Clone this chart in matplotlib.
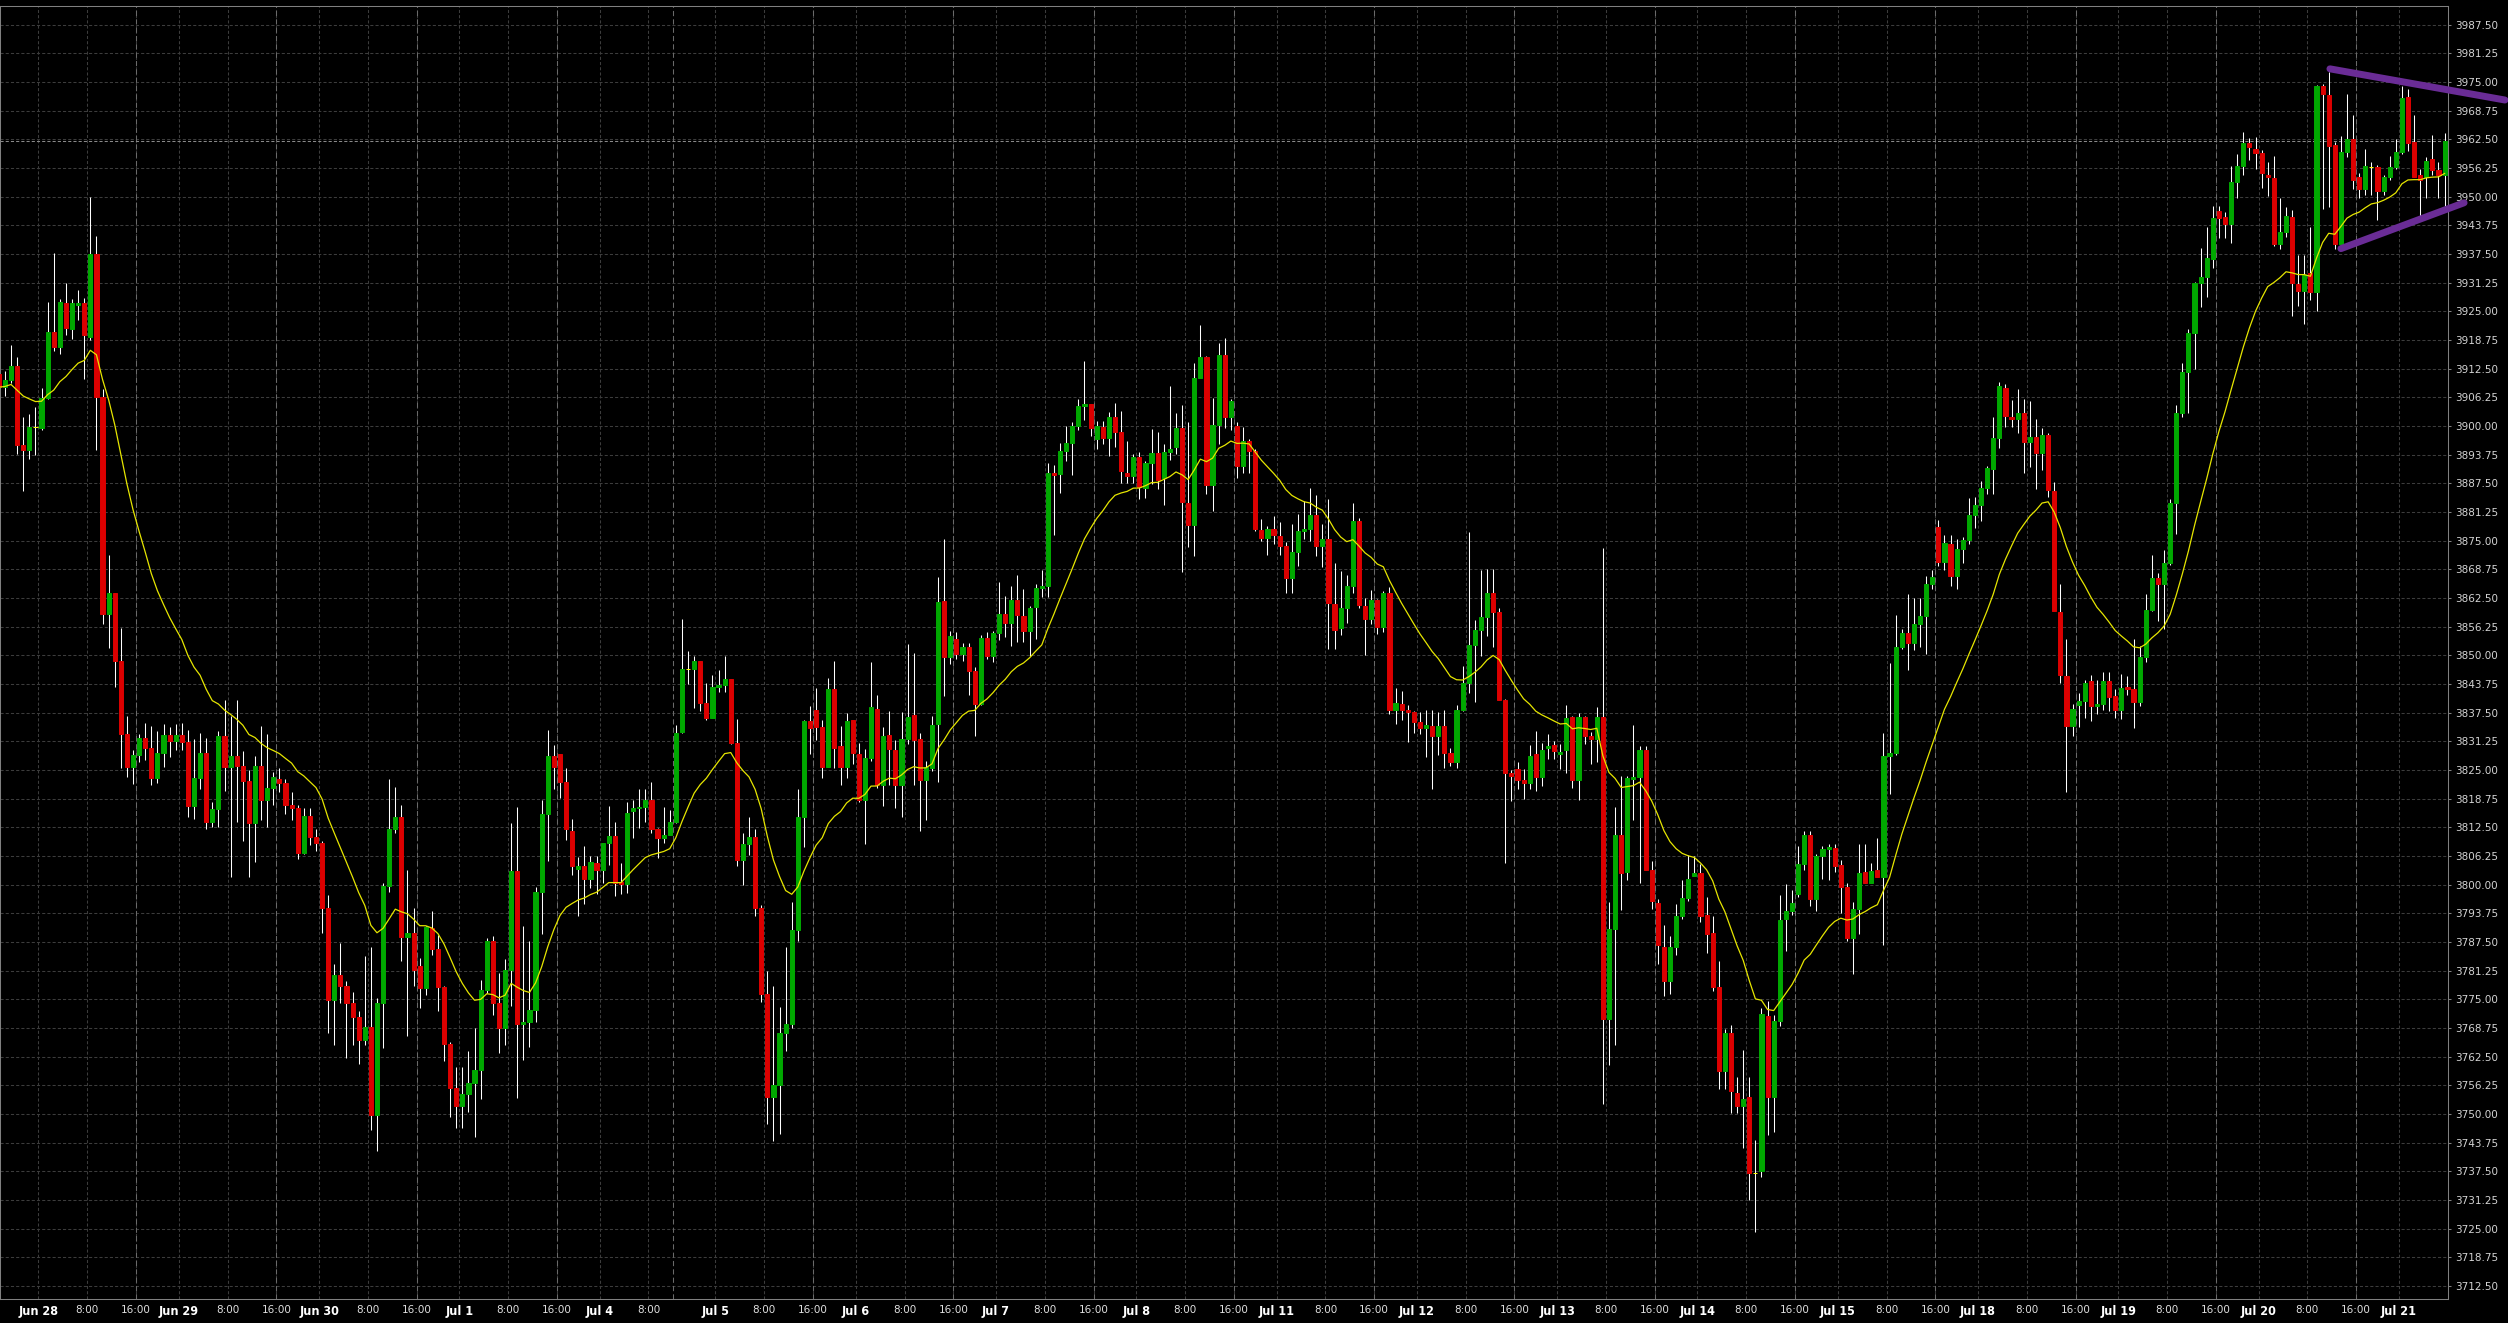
import matplotlib
matplotlib.use('Agg')
import matplotlib.pyplot as plt
import numpy as np
import pandas as pd

# hourly bars (CT), Jun 27 evening session .. Jul 21 morning
opens = [3911.4, 3908.6, 3910.1, 3913.2, 3895.8, 3894.7, 3899.9, 3899.6, 3906.1, 3920.6,
         3917.2, 3926.9, 3921.1, 3926.5, 3926.9, 3919.5, 3937.6, 3906.3, 3859.1, 3863.6,
         3848.9, 3832.9, 3825.6, 3828.4, 3832.0, 3829.8, 3823.2, 3828.7, 3832.6, 3831.3,
         3832.6, 3831.1, 3817.1, 3823.2, 3828.8, 3813.7, 3816.6, 3832.4, 3825.6, 3828.1,
         3826.0, 3822.7, 3813.4, 3825.8, 3818.5, 3821.2, 3823.0, 3822.3, 3817.5, 3816.8,
         3807.0, 3814.9, 3810.4, 3809.1, 3795.0, 3774.9, 3780.4, 3778.0, 3774.3, 3771.2,
         3766.1, 3769.1, 3749.8, 3774.2, 3799.8, 3812.1, 3814.8, 3788.6, 3789.6, 3782.4,
         3777.6, 3790.5, 3785.9, 3777.7, 3765.3, 3755.8, 3751.8, 3754.5, 3756.9, 3759.6,
         3777.0, 3787.8, 3774.3, 3768.7, 3781.4, 3803.0, 3769.6, 3770.0, 3772.7, 3798.5,
         3815.4, 3828.1, 3828.6, 3822.4, 3811.8, 3803.5, 3804.0, 3801.2, 3804.7, 3803.2,
         3809.2, 3810.7, 3800.6, 3800.2, 3816.2, 3816.7, 3817.0, 3818.6, 3812.1, 3810.3,
         3810.9, 3813.7, 3833.3, 3847.0, 3847.0, 3848.8, 3839.7, 3836.4, 3843.2, 3843.6,
         3844.8, 3831.0, 3805.4, 3808.8, 3810.4, 3795.0, 3776.3, 3753.7, 3756.4, 3767.6,
         3769.6, 3790.2, 3814.7, 3835.7, 3838.1, 3834.3, 3825.7, 3842.8, 3830.2, 3825.7,
         3835.9, 3828.6, 3818.6, 3827.7, 3838.4, 3821.8, 3832.6, 3829.4, 3821.8, 3831.9,
         3837.1, 3831.9, 3822.8, 3825.5, 3835.0, 3861.9, 3849.7, 3853.6, 3850.4, 3851.9,
         3846.6, 3839.5, 3853.9, 3849.8, 3854.9, 3859.0, 3857.0, 3862.2, 3858.6, 3855.3,
         3860.5, 3864.7, 3865.2, 3889.8, 3889.6, 3894.6, 3896.4, 3900.1, 3904.4, 3904.9,
         3897.2, 3899.8, 3897.4, 3901.9, 3898.7, 3889.7, 3889.1, 3893.2, 3886.5, 3891.9,
         3894.1, 3888.8, 3894.3, 3895.4, 3899.6, 3883.2, 3878.5, 3910.5, 3915.1, 3887.1,
         3900.2, 3915.6, 3902.1, 3900.0, 3891.4, 3896.8, 3894.5, 3877.3, 3875.7, 3877.5,
         3876.0, 3873.8, 3867.0, 3872.6, 3877.1, 3877.5, 3880.6, 3873.8, 3875.4, 3861.3,
         3856.0, 3860.4, 3865.2, 3879.3, 3860.7, 3858.0, 3862.1, 3856.2, 3863.6, 3838.1,
         3839.4, 3838.1, 3837.7, 3835.6, 3834.2, 3834.6, 3832.4, 3834.7, 3828.7, 3826.8,
         3838.1, 3844.0, 3852.3, 3855.5, 3858.3, 3863.6, 3859.5, 3840.3, 3824.3, 3825.3,
         3822.8, 3822.3, 3828.5, 3823.5, 3829.8, 3830.5, 3828.5, 3829.3, 3836.6, 3822.8,
         3836.6, 3832.5, 3831.8, 3836.6, 3770.7, 3790.4, 3810.8, 3802.8, 3823.1, 3823.6,
         3829.5, 3803.3, 3796.1, 3786.5, 3779.1, 3786.5, 3793.3, 3797.1, 3802.0, 3802.5,
         3793.5, 3789.5, 3777.8, 3759.3, 3767.8, 3754.7, 3751.7, 3753.7, 3737.2, 3737.7,
         3771.4, 3753.7, 3770.4, 3792.5, 3794.3, 3798.1, 3804.5, 3810.8, 3796.8, 3806.3,
         3807.8, 3808.1, 3804.3, 3799.5, 3788.5, 3794.8, 3802.8, 3800.5, 3803.3, 3801.8,
         3828.1, 3828.8, 3851.8, 3854.8, 3852.8, 3856.8, 3858.5, 3865.5, 3878.0, 3870.4,
         3874.4, 3867.3, 3873.2, 3875.1, 3880.6, 3882.7, 3886.6, 3890.6, 3897.5, 3908.3,
         3901.9, 3901.5, 3902.9, 3896.6, 3897.7, 3894.1, 3898.0, 3885.9, 3859.4, 3845.5,
         3834.6, 3839.3, 3840.0, 3844.4, 3838.9, 3839.4, 3844.4, 3841.2, 3838.1, 3843.2,
         3842.7, 3839.9, 3849.7, 3860.0, 3866.8, 3865.6, 3870.2, 3883.2, 3902.9, 3911.9,
         3920.2, 3931.1, 3932.5, 3936.4, 3946.9, 3945.6, 3944.0, 3953.3, 3956.7, 3961.7,
         3960.4, 3959.5, 3954.8, 3954.0, 3939.8, 3942.4, 3945.6, 3931.0, 3929.5, 3933.3,
         3929.3, 3974.1, 3972.3, 3961.4, 3939.8, 3959.8, 3962.5, 3954.3, 3951.6, 3956.4,
         3956.5, 3951.2, 3954.3, 3956.4, 3959.8, 3971.7, 3961.9, 3954.8, 3954.3, 3958.2,
         3955.8, 3954.8]

highs = [3912.0, 3912.1, 3917.7, 3915.1, 3901.9, 3902.7, 3904.2, 3908.4, 3927.1, 3937.8,
         3927.8, 3931.3, 3927.8, 3929.7, 3928.0, 3950.0, 3941.5, 3908.2, 3871.8, 3863.6,
         3856.1, 3836.9, 3829.5, 3832.8, 3835.2, 3834.6, 3833.5, 3835.1, 3834.4, 3835.1,
         3835.2, 3833.7, 3831.7, 3833.2, 3832.0, 3818.0, 3833.6, 3840.3, 3836.9, 3840.3,
         3829.1, 3825.0, 3828.1, 3834.6, 3832.9, 3824.5, 3825.4, 3823.0, 3820.2, 3817.5,
         3816.8, 3816.8, 3812.1, 3809.5, 3797.8, 3782.8, 3787.3, 3779.0, 3776.6, 3772.5,
         3784.5, 3786.4, 3775.3, 3800.5, 3823.0, 3821.3, 3817.5, 3803.2, 3795.0, 3784.0,
         3791.0, 3794.3, 3789.0, 3778.0, 3765.7, 3760.3, 3760.3, 3763.7, 3768.7, 3779.3,
         3788.5, 3788.9, 3780.7, 3783.8, 3813.5, 3817.0, 3791.1, 3787.8, 3799.6, 3818.6,
         3833.7, 3830.4, 3828.6, 3825.5, 3814.3, 3806.0, 3808.5, 3806.3, 3806.2, 3809.2,
         3817.2, 3813.7, 3804.8, 3818.1, 3818.6, 3820.8, 3820.8, 3822.4, 3812.3, 3817.0,
         3816.3, 3834.8, 3857.9, 3850.9, 3849.9, 3848.8, 3844.1, 3845.7, 3846.8, 3849.9,
         3844.8, 3836.1, 3811.4, 3814.7, 3812.1, 3795.7, 3781.2, 3777.9, 3773.3, 3786.5,
         3796.2, 3820.8, 3835.9, 3839.0, 3842.9, 3835.9, 3845.0, 3848.8, 3834.6, 3837.5,
         3835.9, 3831.0, 3829.7, 3848.6, 3841.4, 3834.4, 3837.9, 3831.5, 3837.7, 3852.4,
         3850.6, 3833.2, 3827.0, 3836.8, 3867.1, 3875.3, 3855.3, 3855.1, 3852.8, 3852.8,
         3847.5, 3854.5, 3855.2, 3855.3, 3866.0, 3862.9, 3865.2, 3867.5, 3864.4, 3860.7,
         3865.6, 3868.6, 3891.9, 3891.5, 3896.4, 3900.1, 3900.9, 3906.0, 3914.3, 3904.9,
         3901.1, 3901.1, 3903.1, 3905.1, 3903.3, 3896.8, 3893.9, 3894.3, 3892.4, 3899.4,
         3898.7, 3896.2, 3908.8, 3902.9, 3904.6, 3900.9, 3913.8, 3922.0, 3915.4, 3906.2,
         3918.1, 3919.2, 3906.0, 3900.9, 3899.8, 3897.3, 3895.0, 3879.8, 3878.3, 3880.4,
         3879.1, 3874.8, 3878.7, 3880.8, 3883.6, 3886.5, 3884.9, 3878.7, 3884.1, 3870.1,
         3868.5, 3867.6, 3883.3, 3880.0, 3862.6, 3864.2, 3862.4, 3864.0, 3865.0, 3842.9,
         3842.2, 3839.3, 3837.8, 3837.7, 3838.1, 3838.1, 3837.7, 3838.1, 3829.9, 3839.3,
         3847.8, 3876.9, 3857.8, 3868.6, 3868.9, 3868.9, 3860.3, 3840.5, 3825.1, 3826.8,
         3825.3, 3830.5, 3833.6, 3831.0, 3832.8, 3831.3, 3830.8, 3839.1, 3836.9, 3837.4,
         3836.9, 3833.3, 3838.8, 3873.4, 3796.3, 3817.0, 3823.8, 3823.8, 3834.8, 3830.3,
         3830.3, 3805.3, 3796.8, 3791.3, 3788.8, 3795.8, 3801.1, 3806.5, 3806.3, 3804.5,
         3797.3, 3793.1, 3783.3, 3768.5, 3769.4, 3758.2, 3764.0, 3758.2, 3744.4, 3773.1,
         3774.6, 3771.7, 3797.8, 3800.1, 3798.8, 3808.5, 3811.8, 3811.8, 3806.8, 3808.5,
         3808.8, 3808.8, 3805.5, 3800.5, 3796.3, 3808.8, 3808.8, 3804.8, 3810.1, 3833.1,
         3848.3, 3858.8, 3855.8, 3863.5, 3862.5, 3862.5, 3867.4, 3868.6, 3879.5, 3876.3,
         3876.3, 3875.3, 3875.8, 3884.3, 3884.6, 3888.0, 3891.4, 3901.9, 3909.7, 3909.1,
         3905.7, 3908.1, 3905.9, 3905.4, 3901.5, 3899.6, 3898.5, 3887.8, 3865.6, 3853.6,
         3839.4, 3841.8, 3844.7, 3845.7, 3844.7, 3846.4, 3846.4, 3842.6, 3845.9, 3845.6,
         3853.6, 3852.0, 3863.4, 3872.0, 3868.0, 3873.0, 3884.2, 3904.6, 3913.8, 3921.2,
         3931.5, 3938.9, 3943.4, 3948.0, 3948.0, 3946.7, 3956.7, 3959.3, 3964.1, 3962.8,
         3963.0, 3960.1, 3957.5, 3958.8, 3949.8, 3947.7, 3947.2, 3937.4, 3937.4, 3943.4,
         3974.4, 3974.7, 3977.3, 3962.0, 3963.2, 3972.5, 3967.8, 3955.1, 3960.4, 3957.5,
         3956.9, 3954.7, 3959.0, 3962.5, 3974.1, 3973.4, 3967.8, 3956.0, 3958.6, 3963.5,
         3957.5, 3963.9]

lows = [3907.9, 3906.5, 3909.4, 3894.0, 3885.8, 3892.9, 3893.8, 3899.2, 3906.0, 3916.3,
        3915.8, 3919.9, 3919.0, 3923.2, 3910.2, 3918.8, 3894.9, 3856.8, 3851.6, 3843.1,
        3825.4, 3823.4, 3822.0, 3826.8, 3827.3, 3821.7, 3822.3, 3825.6, 3827.9, 3829.5,
        3829.5, 3814.8, 3814.4, 3820.9, 3812.1, 3812.7, 3812.7, 3820.5, 3801.6, 3813.7,
        3809.6, 3801.8, 3805.0, 3814.1, 3812.5, 3817.5, 3820.2, 3815.5, 3814.1, 3805.7,
        3806.8, 3808.7, 3807.3, 3789.6, 3767.8, 3765.0, 3774.2, 3762.3, 3765.0, 3761.0,
        3765.0, 3746.6, 3741.9, 3764.4, 3798.4, 3811.4, 3783.4, 3767.1, 3778.0, 3773.2,
        3776.0, 3784.8, 3772.5, 3761.6, 3749.4, 3746.9, 3746.9, 3750.5, 3745.0, 3753.4,
        3776.5, 3771.6, 3763.4, 3765.1, 3773.6, 3753.6, 3761.8, 3764.7, 3770.2, 3789.2,
        3805.2, 3820.8, 3819.0, 3809.7, 3802.1, 3793.2, 3795.9, 3799.4, 3798.1, 3800.3,
        3804.3, 3797.6, 3798.1, 3798.3, 3810.1, 3812.3, 3813.7, 3811.4, 3805.8, 3809.2,
        3810.9, 3813.5, 3833.0, 3843.8, 3838.6, 3837.9, 3835.9, 3836.4, 3842.1, 3842.1,
        3830.8, 3804.0, 3800.0, 3806.5, 3793.2, 3774.5, 3747.8, 3744.2, 3745.7, 3763.8,
        3768.7, 3787.8, 3808.3, 3828.6, 3831.5, 3823.3, 3825.7, 3825.4, 3821.8, 3823.2,
        3826.3, 3818.1, 3808.8, 3827.0, 3821.0, 3817.2, 3821.7, 3816.8, 3814.8, 3830.8,
        3821.8, 3811.7, 3814.1, 3824.8, 3822.4, 3841.1, 3848.2, 3849.3, 3848.8, 3841.3,
        3832.5, 3839.3, 3849.2, 3848.6, 3853.3, 3854.1, 3852.1, 3853.0, 3853.0, 3849.8,
        3853.7, 3862.7, 3862.7, 3876.3, 3885.5, 3892.3, 3889.4, 3899.2, 3901.3, 3897.8,
        3895.1, 3896.0, 3893.5, 3895.4, 3887.7, 3887.7, 3887.7, 3884.2, 3884.4, 3887.4,
        3886.4, 3882.8, 3892.7, 3893.9, 3868.1, 3873.6, 3871.6, 3910.5, 3885.3, 3881.4,
        3896.2, 3899.5, 3899.2, 3888.8, 3889.8, 3889.8, 3877.1, 3875.0, 3871.8, 3874.2,
        3871.8, 3863.6, 3863.6, 3869.5, 3875.4, 3875.0, 3871.6, 3869.3, 3851.4, 3851.4,
        3854.5, 3857.0, 3863.6, 3860.4, 3850.0, 3856.8, 3854.7, 3855.1, 3837.2, 3835.0,
        3836.0, 3831.1, 3833.2, 3832.8, 3827.9, 3820.9, 3828.3, 3825.4, 3825.8, 3825.4,
        3838.0, 3841.8, 3839.8, 3849.8, 3854.3, 3851.8, 3840.3, 3804.8, 3818.3, 3820.8,
        3818.8, 3820.8, 3820.5, 3821.5, 3827.5, 3827.5, 3825.3, 3824.3, 3821.1, 3818.5,
        3830.8, 3826.3, 3826.8, 3752.2, 3760.7, 3765.0, 3794.5, 3801.1, 3814.1, 3800.3,
        3803.3, 3794.8, 3782.8, 3775.8, 3776.3, 3784.6, 3792.5, 3796.5, 3802.0, 3791.8,
        3785.1, 3776.8, 3755.5, 3755.5, 3750.2, 3750.2, 3742.7, 3731.2, 3724.2, 3736.2,
        3745.4, 3746.2, 3769.2, 3785.5, 3793.5, 3797.3, 3803.3, 3795.3, 3794.3, 3801.3,
        3801.1, 3802.8, 3793.8, 3787.8, 3780.5, 3789.3, 3800.5, 3800.5, 3801.6, 3786.8,
        3819.8, 3828.3, 3851.5, 3846.8, 3851.1, 3851.8, 3850.3, 3864.4, 3869.5, 3868.6,
        3865.1, 3864.5, 3870.2, 3874.3, 3877.9, 3879.3, 3885.2, 3885.2, 3895.2, 3899.8,
        3899.8, 3898.6, 3889.8, 3891.1, 3886.4, 3890.5, 3884.6, 3859.6, 3844.1, 3820.3,
        3832.4, 3834.4, 3836.4, 3835.7, 3837.3, 3838.1, 3837.9, 3836.4, 3836.2, 3841.4,
        3834.2, 3838.9, 3848.6, 3859.6, 3857.5, 3855.7, 3869.8, 3876.5, 3901.9, 3902.8,
        3912.5, 3925.9, 3928.2, 3934.5, 3941.0, 3941.0, 3940.0, 3949.8, 3954.8, 3958.0,
        3956.1, 3951.9, 3950.1, 3939.2, 3938.7, 3941.3, 3924.0, 3926.3, 3922.3, 3927.4,
        3925.0, 3947.4, 3947.7, 3938.7, 3939.2, 3958.6, 3951.6, 3949.8, 3950.5, 3950.3,
        3945.0, 3950.5, 3953.7, 3956.1, 3959.3, 3960.0, 3954.3, 3945.9, 3949.8, 3954.8,
        3949.8, 3947.7]

closes = [3908.5, 3910.1, 3913.2, 3895.8, 3894.7, 3899.9, 3899.9, 3906.1, 3920.6, 3917.2,
          3927.1, 3921.5, 3926.9, 3926.9, 3919.9, 3937.6, 3906.3, 3859.1, 3863.6, 3848.9,
          3832.9, 3825.6, 3828.4, 3832.0, 3829.8, 3823.2, 3828.7, 3832.6, 3831.3, 3832.6,
          3831.1, 3817.1, 3823.2, 3828.8, 3813.7, 3816.6, 3832.4, 3825.6, 3828.1, 3826.0,
          3822.7, 3813.4, 3825.8, 3818.5, 3821.2, 3823.4, 3822.3, 3817.5, 3816.8, 3807.0,
          3814.9, 3810.4, 3809.1, 3795.0, 3774.9, 3780.4, 3778.0, 3774.3, 3771.2, 3766.1,
          3769.1, 3749.8, 3774.2, 3799.8, 3812.1, 3814.8, 3788.6, 3789.6, 3781.4, 3777.6,
          3790.9, 3785.9, 3777.7, 3765.3, 3755.8, 3751.8, 3754.5, 3756.9, 3759.6, 3777.0,
          3787.8, 3774.3, 3768.7, 3781.4, 3803.0, 3769.6, 3770.0, 3772.7, 3798.5, 3815.4,
          3828.1, 3825.7, 3822.4, 3812.1, 3804.0, 3804.0, 3801.2, 3804.9, 3803.2, 3809.2,
          3810.7, 3800.5, 3800.2, 3815.6, 3816.7, 3817.0, 3818.6, 3812.1, 3810.3, 3810.8,
          3813.7, 3833.1, 3847.0, 3847.0, 3848.8, 3839.7, 3836.4, 3843.2, 3843.6, 3844.8,
          3831.0, 3805.4, 3808.8, 3810.4, 3795.0, 3776.3, 3753.7, 3756.4, 3767.6, 3769.6,
          3790.2, 3814.7, 3835.7, 3834.1, 3834.3, 3825.7, 3842.8, 3829.9, 3825.7, 3835.7,
          3828.8, 3818.6, 3827.7, 3838.8, 3821.8, 3832.4, 3829.7, 3821.8, 3831.9, 3836.5,
          3831.5, 3822.8, 3825.7, 3834.8, 3861.7, 3849.7, 3854.2, 3850.4, 3851.9, 3846.6,
          3839.5, 3853.9, 3849.8, 3854.9, 3859.0, 3857.0, 3862.2, 3858.8, 3855.3, 3860.3,
          3864.7, 3865.2, 3889.8, 3889.4, 3894.6, 3896.4, 3900.1, 3904.4, 3904.9, 3899.6,
          3900.1, 3897.4, 3901.9, 3898.7, 3890.2, 3889.1, 3893.2, 3886.7, 3891.9, 3894.1,
          3888.3, 3894.3, 3895.0, 3899.6, 3883.4, 3878.5, 3910.5, 3915.1, 3887.1, 3900.2,
          3915.6, 3902.1, 3905.5, 3891.4, 3896.8, 3894.5, 3877.5, 3875.7, 3877.5, 3876.3,
          3873.8, 3867.0, 3872.6, 3877.1, 3877.5, 3880.6, 3873.8, 3875.4, 3861.5, 3855.6,
          3860.4, 3865.2, 3879.3, 3860.9, 3858.0, 3862.1, 3856.2, 3863.6, 3838.1, 3839.6,
          3838.1, 3837.7, 3835.6, 3834.2, 3834.8, 3832.4, 3834.7, 3828.7, 3826.8, 3838.1,
          3844.0, 3852.3, 3855.5, 3858.3, 3863.6, 3859.5, 3840.3, 3824.3, 3823.8, 3822.8,
          3822.3, 3828.1, 3823.5, 3829.3, 3830.3, 3829.1, 3829.0, 3836.3, 3822.8, 3836.6,
          3832.5, 3831.8, 3836.6, 3770.7, 3790.4, 3810.8, 3802.5, 3823.3, 3823.6, 3829.5,
          3803.3, 3796.5, 3786.8, 3779.1, 3786.5, 3793.3, 3797.1, 3801.3, 3802.5, 3793.3,
          3789.3, 3777.8, 3759.3, 3767.8, 3755.0, 3751.7, 3753.4, 3737.2, 3737.2, 3771.9,
          3753.7, 3770.4, 3792.3, 3794.3, 3796.1, 3804.5, 3810.8, 3796.8, 3806.3, 3807.8,
          3808.3, 3804.1, 3799.5, 3788.5, 3794.8, 3802.5, 3800.5, 3803.1, 3801.8, 3828.1,
          3828.8, 3851.8, 3854.8, 3852.8, 3856.8, 3858.5, 3865.5, 3867.1, 3870.4, 3874.6,
          3867.3, 3873.2, 3875.1, 3880.6, 3882.7, 3886.6, 3890.9, 3897.5, 3908.8, 3902.2,
          3901.5, 3902.9, 3896.6, 3897.7, 3894.1, 3898.0, 3886.1, 3859.6, 3845.8, 3834.6,
          3838.3, 3840.0, 3844.1, 3838.9, 3839.4, 3844.4, 3840.9, 3838.1, 3843.0, 3842.7,
          3839.9, 3849.7, 3860.0, 3866.8, 3865.6, 3870.2, 3883.2, 3902.9, 3911.7, 3920.2,
          3931.3, 3932.5, 3936.6, 3945.3, 3945.3, 3944.0, 3953.3, 3956.7, 3961.7, 3960.9,
          3959.6, 3955.1, 3954.3, 3939.8, 3942.4, 3945.9, 3931.1, 3929.5, 3933.0, 3929.3,
          3974.1, 3972.5, 3961.1, 3939.8, 3959.8, 3962.5, 3953.7, 3951.6, 3956.7, 3956.4,
          3951.2, 3954.3, 3956.4, 3959.8, 3971.5, 3961.7, 3954.3, 3953.7, 3957.9, 3955.8,
          3954.8, 3962.2]

day_labels = ['Jun 28', 'Jun 29', 'Jun 30', 'Jul 1', 'Jul 4', 'Jul 5', 'Jul 6', 'Jul 7', 'Jul 8',
              'Jul 11', 'Jul 12', 'Jul 13', 'Jul 14', 'Jul 15', 'Jul 18', 'Jul 19', 'Jul 20', 'Jul 21']

# hand drawn triangle lines: (bar index, price)
upper_x, upper_y = [382.2, 410.9], [3977.9, 3971.1]
lower_x, lower_y = [384.0, 404.2], [3938.7, 3948.7]

price_ticks = np.arange(3712.5, 3990, 6.25)

# bar hours: 17:00-23:00 of Jun 27, then 0-15 + 17-23 each day,
# Jul 4 closes at 12:00, chart stops at 8:00 on Jul 21
hours = list(range(17, 24))
for d in day_labels:
    if d == 'Jul 4':
        hours += list(range(0, 12)) + list(range(17, 24))
    elif d == 'Jul 21':
        hours += list(range(0, 8))
    else:
        hours += list(range(0, 16)) + list(range(17, 24))

tick_pos, tick_lab, is_day, breaks = [], [], [], []
days = iter(day_labels)
for i in range(1, len(hours)):
    h, prev = hours[i], hours[i - 1]
    if h == 0:
        tick_pos.append(i - 0.5); tick_lab.append(next(days)); is_day.append(True)
    elif h == 8:
        tick_pos.append(i - 0.5); tick_lab.append('8:00'); is_day.append(False)
    elif h != prev + 1:
        breaks.append(i - 0.5)
        if prev == 15:
            tick_pos.append(i - 0.5); tick_lab.append('16:00'); is_day.append(False)

o = np.array(opens)
c = np.array(closes)
x = np.arange(len(c))
ema = pd.Series(c).ewm(span=20, adjust=False).mean()

fig = plt.figure(figsize=(25.08, 13.23), dpi=100, facecolor='black')
ax = fig.add_axes([0, 24 / 1323, 2448 / 2508, 1293 / 1323], facecolor='black')

ymin, ymax = 3709.7, 3991.6
ax.set_xlim(0.19, 401.56)
ax.set_ylim(ymin, ymax)

# grid
ax.set_yticks(price_ticks)
ax.set_yticklabels(['%.2f' % p for p in price_ticks])
ax.yaxis.grid(True, color='#3c3c3c', linestyle=(0, (3, 2)), lw=0.75)
ax.set_axisbelow(True)
ax.vlines(tick_pos, ymin, ymax, colors='#3c3c3c', linestyles=(0, (3, 2)), lw=0.75, zorder=1)
ax.vlines(breaks, ymin, ymax, colors='#6a6a6a', linestyles=(0, (5, 3)), lw=0.75, zorder=1)
ax.axhline(c[-1], color='#8a8a8a', linestyle=(0, (3, 2)), lw=0.75, zorder=1)

# candles
colors = np.where(c > o, '#00a800', np.where(c < o, '#dc0000', '#ffff00'))
ax.vlines(x, lows, highs, colors='white', lw=0.75, zorder=3)
ax.bar(x, np.abs(c - o), bottom=np.minimum(o, c), width=0.68, color=colors,
       edgecolor=colors, linewidth=0.7, zorder=4)

ax.plot(x, ema, color='#e6e600', lw=0.9, zorder=5)

ax.plot(upper_x, upper_y, color='#6a2c96', lw=5, solid_capstyle='round', clip_on=False, zorder=6)
ax.plot(lower_x, lower_y, color='#6a2c96', lw=5, solid_capstyle='round', clip_on=False, zorder=6)

# axes styling
for s in ax.spines.values():
    s.set_color('#808080')
    s.set_linewidth(0.75)
ax.yaxis.tick_right()
ax.tick_params(axis='y', colors='#808080', length=2.5, width=0.75, pad=3, labelsize=7.5,
               labelcolor='#d4d4d4')
ax.set_xticks(tick_pos)
ax.set_xticklabels(tick_lab)
ax.tick_params(axis='x', length=0, pad=4, labelcolor='white')
for lbl, day in zip(ax.get_xticklabels(), is_day):
    if day:
        lbl.set_fontsize(9)
        lbl.set_fontweight('bold')
        lbl.set_fontstretch('condensed')
    else:
        lbl.set_fontsize(7.5)
        lbl.set_color('#e0e0e0')

fig.savefig('out.png', dpi=100, facecolor='black')
